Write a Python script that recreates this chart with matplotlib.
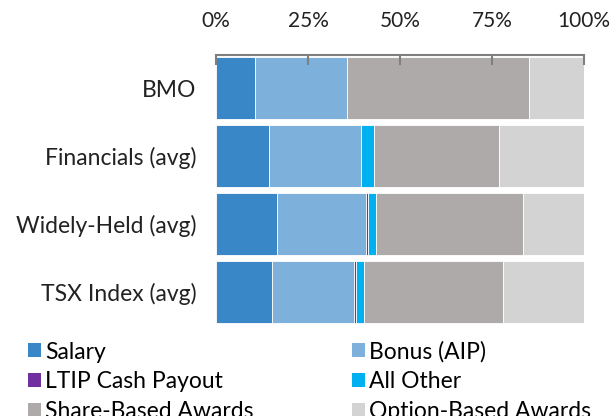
import matplotlib
matplotlib.use("Agg")
import matplotlib.pyplot as plt
from matplotlib.patches import Patch
import numpy as np

plt.rcParams['font.family'] = ['Lato', 'DejaVu Sans']

categories = ["BMO", "Financials (avg)", "Widely-Held (avg)", "TSX Index (avg)"]
series_names = ["Salary", "Bonus (AIP)", "LTIP Cash Payout", "All Other",
                "Share-Based Awards", "Option-Based Awards"]
salary = [10.6, 14.4, 16.5, 15.3]
bonus = [24.9, 25.0, 24.2, 22.2]
ltip = [0.0, 0.0, 0.5, 0.5]
all_other = [0.0, 3.4, 2.3, 2.2]
share_based = [49.6, 34.1, 40.0, 37.7]
option_based = [14.9, 23.1, 16.5, 22.1]
tick_values = [0, 25, 50, 75, 100]
tick_labels = ["0%", "25%", "50%", "75%", "100%"]

colors = ["#3a87c8", "#7db0db", "#7030a0", "#00b0f0", "#aeaaaa", "#d3d3d3"]
data = [salary, bonus, ltip, all_other, share_based, option_based]

fig = plt.figure(figsize=(6.15, 4.16), dpi=100)
ax = fig.add_axes([216/615, 1-325/416, 368/615, 270/416])

y = np.arange(len(categories))
left = np.zeros(len(categories))
for vals, c, name in zip(data, colors, series_names):
    vals = np.array(vals)
    ax.barh(y, vals, left=left, height=0.91, color=c, edgecolor='white',
            linewidth=0.6, label=name)
    left += vals

ax.set_xlim(0, 100)
ax.set_ylim(3.49, -0.49)
ax.xaxis.tick_top()
ax.set_xticks(tick_values)
ax.set_xticklabels(tick_labels, fontsize=15, color='#222222')
ax.tick_params(axis='x', direction='in', length=7, width=1.5, color='#7f7f7f', pad=17)
ax.set_yticks(y)
ax.set_yticklabels(categories, fontsize=16.5, color='#222222')
ax.tick_params(axis='y', length=0, pad=14)
for s in ['left', 'right', 'bottom']:
    ax.spines[s].set_visible(False)
ax.spines['top'].set_color('#7f7f7f')
ax.spines['top'].set_linewidth(1.5)

order = [0, 2, 4, 1, 3, 5]
handles = [Patch(facecolor=colors[i], edgecolor='none') for i in order]
labels = [series_names[i] for i in order]
fig.legend(handles, labels, ncol=2, loc='upper left',
           bbox_to_anchor=(28/615, 1-341/416), frameon=False, fontsize=16.5,
           handlelength=0.57, handleheight=0.57, handletextpad=0.17,
           columnspacing=4.3, labelspacing=0.39, borderpad=0, borderaxespad=0)

fig.savefig("out.png", dpi=100)
